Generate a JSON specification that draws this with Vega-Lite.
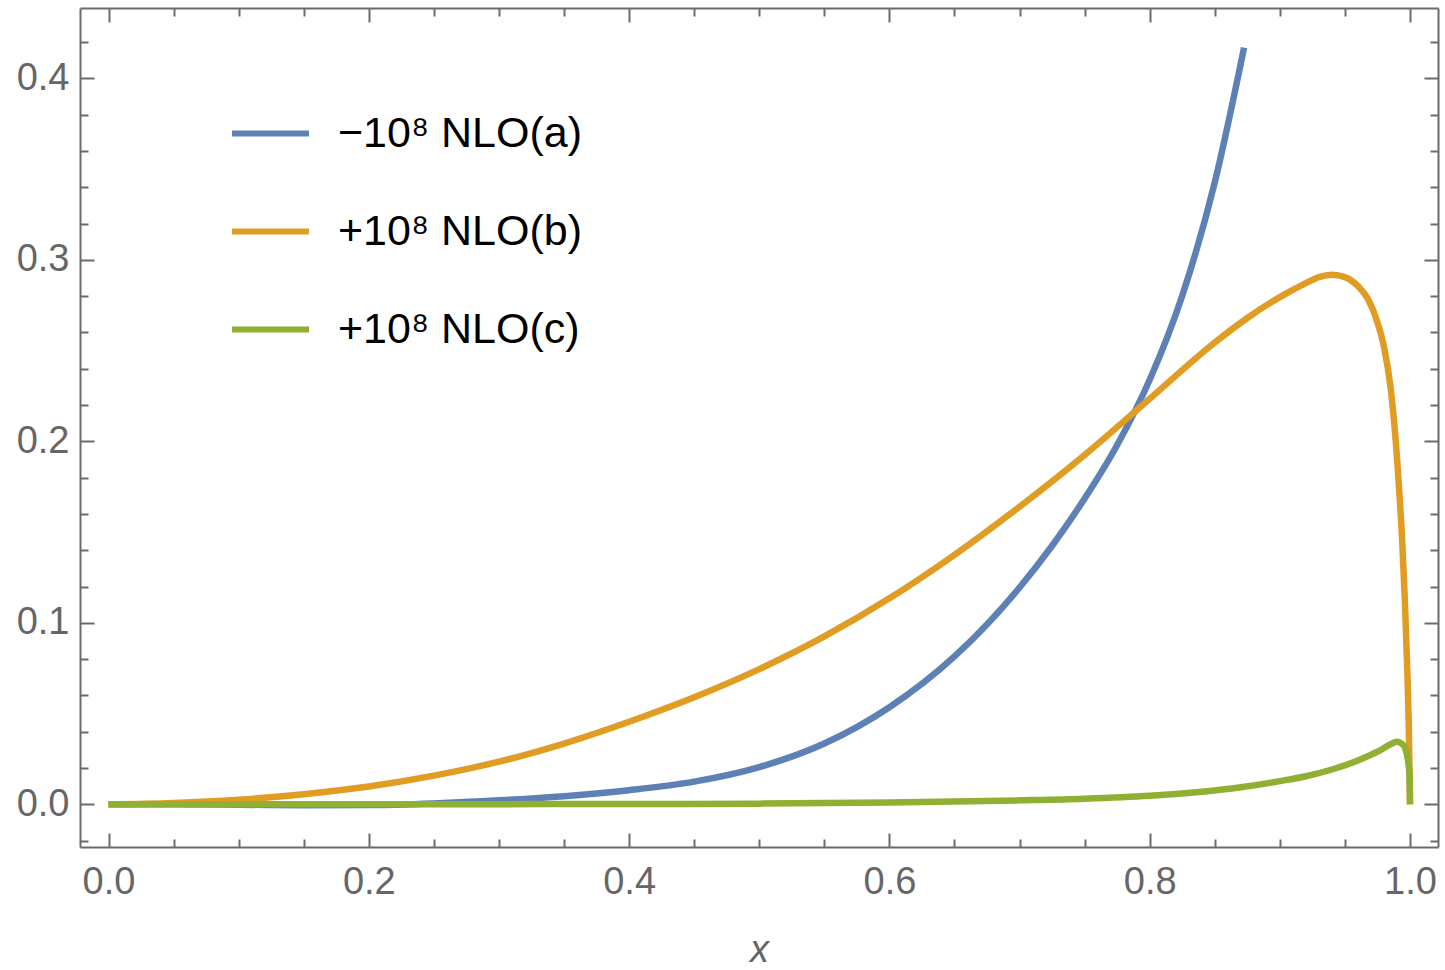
{
  "$schema": "https://vega.github.io/schema/vega-lite/v6.json",
  "width": 1358,
  "height": 839,
  "autosize": {"type": "none"},
  "padding": {"left": 80, "top": 8, "right": 7, "bottom": 123},
  "background": "white",
  "config": {
    "view": {"stroke": null},
    "axis": {"grid": false, "tickColor": "#6b6b6b", "tickWidth": 2, "domainColor": "#6b6b6b", "domainWidth": 2, "labelFont": "Liberation Sans", "labelFontSize": 38, "labelColor": "#666666", "titleFont": "Liberation Sans", "titleColor": "#666666"}
  },
  "datasets": {
    "curves": [
      {"x": 0.0, "y": 0.0, "s": "−10⁸ NLO(a)"},
      {"x": 0.05, "y": 0.0, "s": "−10⁸ NLO(a)"},
      {"x": 0.1, "y": -0.0002, "s": "−10⁸ NLO(a)"},
      {"x": 0.15, "y": -0.0005, "s": "−10⁸ NLO(a)"},
      {"x": 0.2, "y": -0.0004, "s": "−10⁸ NLO(a)"},
      {"x": 0.25, "y": 0.0005, "s": "−10⁸ NLO(a)"},
      {"x": 0.3, "y": 0.0022, "s": "−10⁸ NLO(a)"},
      {"x": 0.35, "y": 0.0045, "s": "−10⁸ NLO(a)"},
      {"x": 0.4, "y": 0.0078, "s": "−10⁸ NLO(a)"},
      {"x": 0.45, "y": 0.0125, "s": "−10⁸ NLO(a)"},
      {"x": 0.5, "y": 0.0205, "s": "−10⁸ NLO(a)"},
      {"x": 0.55, "y": 0.0335, "s": "−10⁸ NLO(a)"},
      {"x": 0.6, "y": 0.0535, "s": "−10⁸ NLO(a)"},
      {"x": 0.65, "y": 0.0815, "s": "−10⁸ NLO(a)"},
      {"x": 0.7, "y": 0.1195, "s": "−10⁸ NLO(a)"},
      {"x": 0.725, "y": 0.1425, "s": "−10⁸ NLO(a)"},
      {"x": 0.75, "y": 0.1685, "s": "−10⁸ NLO(a)"},
      {"x": 0.775, "y": 0.198, "s": "−10⁸ NLO(a)"},
      {"x": 0.8, "y": 0.234, "s": "−10⁸ NLO(a)"},
      {"x": 0.825, "y": 0.2803, "s": "−10⁸ NLO(a)"},
      {"x": 0.85, "y": 0.3428, "s": "−10⁸ NLO(a)"},
      {"x": 0.8725, "y": 0.417, "s": "−10⁸ NLO(a)"},
      {"x": 0.0, "y": 0.0, "s": "+10⁸ NLO(b)"},
      {"x": 0.05, "y": 0.0008, "s": "+10⁸ NLO(b)"},
      {"x": 0.1, "y": 0.0026, "s": "+10⁸ NLO(b)"},
      {"x": 0.15, "y": 0.0056, "s": "+10⁸ NLO(b)"},
      {"x": 0.2, "y": 0.0098, "s": "+10⁸ NLO(b)"},
      {"x": 0.25, "y": 0.0158, "s": "+10⁸ NLO(b)"},
      {"x": 0.3, "y": 0.0235, "s": "+10⁸ NLO(b)"},
      {"x": 0.35, "y": 0.0335, "s": "+10⁸ NLO(b)"},
      {"x": 0.4, "y": 0.0455, "s": "+10⁸ NLO(b)"},
      {"x": 0.45, "y": 0.059, "s": "+10⁸ NLO(b)"},
      {"x": 0.5, "y": 0.0745, "s": "+10⁸ NLO(b)"},
      {"x": 0.55, "y": 0.0925, "s": "+10⁸ NLO(b)"},
      {"x": 0.6, "y": 0.1135, "s": "+10⁸ NLO(b)"},
      {"x": 0.65, "y": 0.1375, "s": "+10⁸ NLO(b)"},
      {"x": 0.7, "y": 0.164, "s": "+10⁸ NLO(b)"},
      {"x": 0.75, "y": 0.1925, "s": "+10⁸ NLO(b)"},
      {"x": 0.8, "y": 0.2235, "s": "+10⁸ NLO(b)"},
      {"x": 0.85, "y": 0.2545, "s": "+10⁸ NLO(b)"},
      {"x": 0.875, "y": 0.268, "s": "+10⁸ NLO(b)"},
      {"x": 0.9, "y": 0.2795, "s": "+10⁸ NLO(b)"},
      {"x": 0.92, "y": 0.2872, "s": "+10⁸ NLO(b)"},
      {"x": 0.93, "y": 0.2905, "s": "+10⁸ NLO(b)"},
      {"x": 0.94, "y": 0.2918, "s": "+10⁸ NLO(b)"},
      {"x": 0.95, "y": 0.2905, "s": "+10⁸ NLO(b)"},
      {"x": 0.96, "y": 0.2855, "s": "+10⁸ NLO(b)"},
      {"x": 0.968, "y": 0.278, "s": "+10⁸ NLO(b)"},
      {"x": 0.975, "y": 0.2655, "s": "+10⁸ NLO(b)"},
      {"x": 0.98, "y": 0.252, "s": "+10⁸ NLO(b)"},
      {"x": 0.985, "y": 0.230, "s": "+10⁸ NLO(b)"},
      {"x": 0.988, "y": 0.209, "s": "+10⁸ NLO(b)"},
      {"x": 0.991, "y": 0.1806, "s": "+10⁸ NLO(b)"},
      {"x": 0.994, "y": 0.145, "s": "+10⁸ NLO(b)"},
      {"x": 0.996, "y": 0.113, "s": "+10⁸ NLO(b)"},
      {"x": 0.998, "y": 0.072, "s": "+10⁸ NLO(b)"},
      {"x": 0.999, "y": 0.045, "s": "+10⁸ NLO(b)"},
      {"x": 1.0, "y": 0.0, "s": "+10⁸ NLO(b)"},
      {"x": 0.0, "y": 0.0, "s": "+10⁸ NLO(c)"},
      {"x": 0.1, "y": 0.0, "s": "+10⁸ NLO(c)"},
      {"x": 0.2, "y": 0.0, "s": "+10⁸ NLO(c)"},
      {"x": 0.3, "y": 0.0001, "s": "+10⁸ NLO(c)"},
      {"x": 0.4, "y": 0.0002, "s": "+10⁸ NLO(c)"},
      {"x": 0.5, "y": 0.0004, "s": "+10⁸ NLO(c)"},
      {"x": 0.6, "y": 0.001, "s": "+10⁸ NLO(c)"},
      {"x": 0.7, "y": 0.0022, "s": "+10⁸ NLO(c)"},
      {"x": 0.75, "y": 0.0031, "s": "+10⁸ NLO(c)"},
      {"x": 0.8, "y": 0.0047, "s": "+10⁸ NLO(c)"},
      {"x": 0.84, "y": 0.0069, "s": "+10⁸ NLO(c)"},
      {"x": 0.87, "y": 0.0094, "s": "+10⁸ NLO(c)"},
      {"x": 0.9, "y": 0.0128, "s": "+10⁸ NLO(c)"},
      {"x": 0.92, "y": 0.0155, "s": "+10⁸ NLO(c)"},
      {"x": 0.94, "y": 0.0192, "s": "+10⁸ NLO(c)"},
      {"x": 0.96, "y": 0.0242, "s": "+10⁸ NLO(c)"},
      {"x": 0.975, "y": 0.029, "s": "+10⁸ NLO(c)"},
      {"x": 0.985, "y": 0.0331, "s": "+10⁸ NLO(c)"},
      {"x": 0.9898, "y": 0.0345, "s": "+10⁸ NLO(c)"},
      {"x": 0.9935, "y": 0.0335, "s": "+10⁸ NLO(c)"},
      {"x": 0.9965, "y": 0.0305, "s": "+10⁸ NLO(c)"},
      {"x": 0.9985, "y": 0.024, "s": "+10⁸ NLO(c)"},
      {"x": 0.9997, "y": 0.0152, "s": "+10⁸ NLO(c)"},
      {"x": 1.0, "y": 0.0, "s": "+10⁸ NLO(c)"}
    ]
  },
  "data": {"name": "curves"},
  "resolve": {"axis": {"x": "independent", "y": "independent"}},
  "layer": [
    {
      "mark": {"type": "line", "strokeWidth": 6.5, "interpolate": "monotone", "strokeCap": "butt", "clip": true},
      "encoding": {
        "x": {"field": "x", "type": "quantitative",
              "scale": {"domain": [-0.0219, 1.0215], "nice": false, "zero": false},
              "axis": {"orient": "bottom", "values": [0, 0.2, 0.4, 0.6, 0.8, 1.0], "format": ".1f", "tickSize": -14, "labelPadding": 30, "title": "x", "titleFontStyle": "italic", "titleFontWeight": "normal", "titleFontSize": 38, "titlePadding": 30}},
        "y": {"field": "y", "type": "quantitative",
              "scale": {"domain": [-0.0235, 0.4388], "nice": false, "zero": false},
              "axis": {"orient": "left", "values": [0, 0.1, 0.2, 0.3, 0.4], "format": ".1f", "tickSize": -14, "labelPadding": 25, "title": null}},
        "color": {"field": "s", "type": "nominal",
                  "scale": {"domain": ["−10⁸ NLO(a)", "+10⁸ NLO(b)", "+10⁸ NLO(c)"], "range": ["#5E81B5", "#E19C24", "#8FB032"]},
                  "legend": {"orient": "none", "legendX": 149, "legendY": 84, "title": null, "padding": 0,
                             "symbolType": "stroke", "symbolSize": 5929, "symbolStrokeWidth": 6,
                             "labelFont": "Liberation Sans", "labelFontSize": 43, "labelColor": "#000000",
                             "labelOffset": 26, "rowPadding": 34, "labelLimit": 0}}
      }
    },
    {
      "mark": {"type": "line", "strokeOpacity": 0},
      "encoding": {
        "x": {"field": "x", "type": "quantitative",
              "axis": {"orient": "bottom", "values": [0.05, 0.1, 0.15, 0.25, 0.3, 0.35, 0.45, 0.5, 0.55, 0.65, 0.7, 0.75, 0.85, 0.9, 0.95], "tickSize": -8, "labels": false, "domain": false, "title": null}},
        "y": {"field": "y", "type": "quantitative",
              "axis": {"orient": "left", "values": [-0.02, 0.02, 0.04, 0.06, 0.08, 0.12, 0.14, 0.16, 0.18, 0.22, 0.24, 0.26, 0.28, 0.32, 0.34, 0.36, 0.38, 0.42], "tickSize": -8, "labels": false, "domain": false, "title": null}},
        "detail": {"field": "s", "type": "nominal"}
      }
    },
    {
      "mark": {"type": "line", "strokeOpacity": 0},
      "encoding": {
        "x": {"field": "x", "type": "quantitative",
              "axis": {"orient": "top", "values": [0, 0.2, 0.4, 0.6, 0.8, 1.0], "tickSize": -14, "labels": false, "title": null}},
        "y": {"field": "y", "type": "quantitative",
              "axis": {"orient": "right", "values": [0, 0.1, 0.2, 0.3, 0.4], "tickSize": -14, "labels": false, "title": null}},
        "detail": {"field": "s", "type": "nominal"}
      }
    },
    {
      "mark": {"type": "line", "strokeOpacity": 0},
      "encoding": {
        "x": {"field": "x", "type": "quantitative",
              "axis": {"orient": "top", "values": [0.05, 0.1, 0.15, 0.25, 0.3, 0.35, 0.45, 0.5, 0.55, 0.65, 0.7, 0.75, 0.85, 0.9, 0.95], "tickSize": -8, "labels": false, "domain": false, "title": null}},
        "y": {"field": "y", "type": "quantitative",
              "axis": {"orient": "right", "values": [-0.02, 0.02, 0.04, 0.06, 0.08, 0.12, 0.14, 0.16, 0.18, 0.22, 0.24, 0.26, 0.28, 0.32, 0.34, 0.36, 0.38, 0.42], "tickSize": -8, "labels": false, "domain": false, "title": null}},
        "detail": {"field": "s", "type": "nominal"}
      }
    }
  ]
}
